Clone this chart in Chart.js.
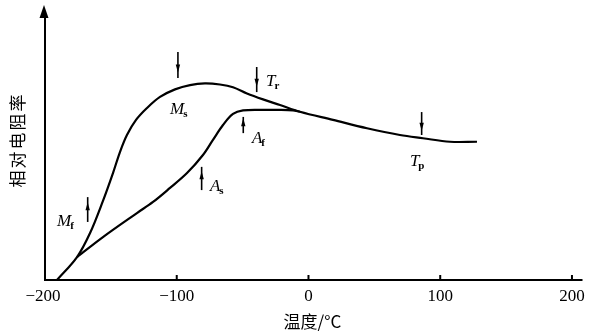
<!DOCTYPE html>
<html>
<head>
<meta charset="utf-8">
<script src="https://cdn.jsdelivr.net/npm/chart.js@4"></script>
<style>
  html, body { margin: 0; padding: 0; background: #fff; }
  #wrap { width: 595px; height: 335px; }
</style>
</head>
<body>
<div id="wrap"><canvas id="chart" width="595" height="335"></canvas></div>
<script>
// cooling curve (upper branch), temperature in °C, relative resistivity (arb. units)
const coolTemp = [-190.9, -175.7, -165.8, -156.0, -148.4, -143.1, -137.8, -130.9, -122.6, -112.7, -101.3, -89.9, -78.6, -67.2, -57.3, -46.7, -34.5, -21.6, -6.5, 18.6, 44.4, 69.4, 86.9, 107.4, 127.9];
const coolRes  = [0, 8.5, 17.4, 29.3, 39.6, 47.4, 53.7, 59.3, 63.7, 67.8, 70.6, 72.2, 72.8, 72.4, 71.4, 69.1, 66.9, 64.8, 62.3, 59.3, 56.2, 53.7, 52.5, 51.2, 51.2];

// heating curve (lower branch)
const heatTemp = [-175.7, -156.0, -130.2, -118.0, -105.1, -92.2, -80.1, -72.5, -64.9, -57.3, -49.7, -34.5, -21.6, -11.8, -6.5];
const heatRes  = [8.5, 15.9, 24.8, 28.9, 34.1, 39.6, 46.3, 51.9, 57.4, 61.5, 62.8, 63.0, 63.0, 62.8, 62.3];

const xTicks = [-200, -100, 0, 100, 200];

// transformation points: arrow at temperature, from / to resistivity
const markName = ['M', 'M', 'T', 'A', 'A', 'T'];
const markSub  = ['f', 's', 'r', 'f', 's', 'p'];
const markTemp = [-167.6, -99.1, -39.3, -49.5, -81.1, 85.9];
const markFrom = [21.5, 84.4, 78.9, 54.4, 33.3, 62.2];
const markTo   = [30.7, 74.8, 69.6, 60.4, 41.9, 53.7];
const labelTemp = [-190.8, -105.1, -32.3, -42.9, -74.8, 77];
const labelRes  = [22.2, 63.7, 74.1, 53, 35.2, 44.4];

function pts(xs, ys) {
  return xs.map((x, i) => ({ x: x, y: ys[i] }));
}

const axesPlugin = {
  id: 'axesPlugin',
  afterDraw(chart) {
    const ctx = chart.ctx;
    const xs = chart.scales.x, ys = chart.scales.y;
    const x0 = xs.getPixelForValue(-200);
    const y0 = ys.getPixelForValue(0);
    ctx.save();
    ctx.strokeStyle = '#000';
    ctx.fillStyle = '#000';
    ctx.lineWidth = 2;

    // axes
    ctx.beginPath();
    ctx.moveTo(x0, y0);
    ctx.lineTo(x0, ys.top + 6);
    ctx.moveTo(x0 - 1, y0);
    ctx.lineTo(xs.right, y0);
    ctx.stroke();
    // arrow head on the y axis
    ctx.beginPath();
    ctx.moveTo(x0 - 1, ys.top - 5);
    ctx.lineTo(x0 - 5.5, ys.top + 8);
    ctx.lineTo(x0 + 3.5, ys.top + 8);
    ctx.closePath();
    ctx.fill();

    // ticks and tick labels
    ctx.font = '17px "Liberation Serif"';
    ctx.textAlign = 'center';
    ctx.textBaseline = 'middle';
    xTicks.forEach(v => {
      const px = xs.getPixelForValue(v);
      if (v !== -200) {
        ctx.beginPath();
        ctx.moveTo(px, y0);
        ctx.lineTo(px, y0 - 5);
        ctx.stroke();
      }
      ctx.fillText(String(v).replace('-', '\u2212'), px - (v === -200 ? 2 : 0), y0 + 17);
    });

    // axis titles
    ctx.font = '17px "Noto Sans CJK SC"';
    ctx.fillText('温度/°C', xs.getPixelForValue(0) + 4, 322);
    ctx.save();
    ctx.translate(18, 140);
    ctx.rotate(-Math.PI / 2);
    ctx.font = '17px "Noto Sans CJK SC"';
    ctx.letterSpacing = '2px';
    ctx.fillText('相对电阻率', 0, 0);
    ctx.restore();

    // transformation arrows
    ctx.lineWidth = 1.6;
    markTemp.forEach((t, i) => {
      const px = xs.getPixelForValue(t);
      const pa = ys.getPixelForValue(markFrom[i]);
      const pb = ys.getPixelForValue(markTo[i]);
      ctx.beginPath();
      ctx.moveTo(px, pa);
      ctx.lineTo(px, pb);
      ctx.stroke();
      const dir = pb > pa ? 1 : -1;
      const hy = pa + (pb - pa) * 0.55;
      ctx.beginPath();
      ctx.moveTo(px, hy + dir * 6);
      ctx.lineTo(px - 2.2, hy - dir * 2);
      ctx.lineTo(px + 2.2, hy - dir * 2);
      ctx.closePath();
      ctx.fill();
    });

    // transformation labels
    ctx.textAlign = 'left';
    ctx.textBaseline = 'alphabetic';
    labelTemp.forEach((t, i) => {
      const px = xs.getPixelForValue(t);
      const py = ys.getPixelForValue(labelRes[i]) + 6;
      ctx.font = 'italic 17px "Liberation Serif"';
      ctx.fillText(markName[i], px, py);
      const w = ctx.measureText(markName[i]).width;
      ctx.font = 'bold 11px "Liberation Serif"';
      ctx.fillText(markSub[i], px + w - 1, py + 3);
    });
    ctx.restore();
  }
};

new Chart(document.getElementById('chart').getContext('2d'), {
  type: 'scatter',
  data: {
    datasets: [
      {
        label: 'cooling',
        data: pts(coolTemp, coolRes),
        showLine: true,
        borderColor: '#000',
        borderWidth: 2.2,
        pointRadius: 0,
        tension: 0.35
      },
      {
        label: 'heating',
        data: pts(heatTemp, heatRes),
        showLine: true,
        borderColor: '#000',
        borderWidth: 2.2,
        pointRadius: 0,
        tension: 0.35
      }
    ]
  },
  options: {
    responsive: false,
    animation: false,
    layout: { padding: { left: 45, right: 12.5, top: 10, bottom: 55 } },
    plugins: { legend: { display: false }, tooltip: { enabled: false } },
    scales: {
      x: { type: 'linear', min: -200, max: 208, display: false },
      y: { type: 'linear', min: 0, max: 100, display: false }
    }
  },
  plugins: [axesPlugin]
});
</script>
</body>
</html>
